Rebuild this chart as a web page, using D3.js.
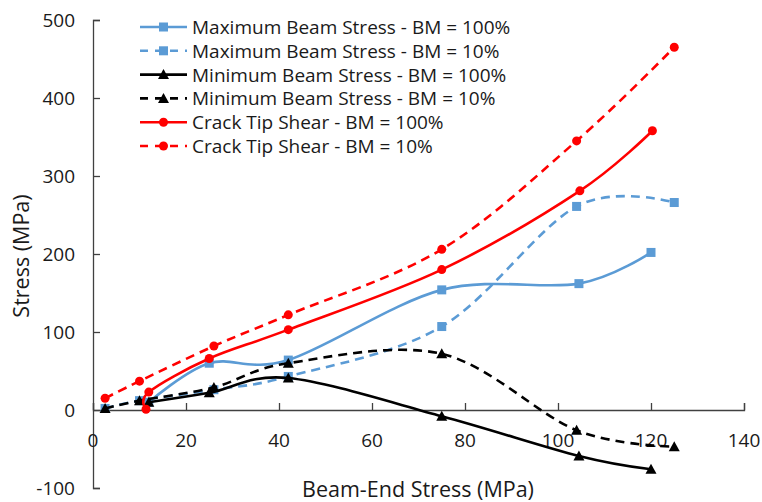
<!DOCTYPE html>
<html>
<head>
<meta charset="UTF-8"/>
<script src="https://d3js.org/d3.v7.min.js"></script>
<style>
  body { margin: 0; background: #fff; }
  svg text { font-family: "Open Sans", Lato, sans-serif; fill: #1a1a1a; }
</style>
</head>
<body>
<script>
  // beam-end stress (x) for each run
  var x100 = [12, 25, 42, 75, 104.5, 120];
  var x10 = [2.6, 10, 26, 42, 75, 104, 125];
  var xCrack100 = [11.4, 12, 25, 42, 75, 104.7, 120.3];

  var maxBeam100 = [10, 60, 64, 154, 162, 202];
  var maxBeam10 = [2, 12, 26, 43, 107, 261, 266];
  var minBeam100 = [10, 22, 41, -8, -59, -76];
  var minBeam10 = [2, 12, 29, 60, 72, -26, -47];
  var crackTip100 = [1, 23, 66, 103, 180, 281, 358];
  var crackTip10 = [15, 37, 82, 122, 206, 345, 465];

  var xTicks = [0, 20, 40, 60, 80, 100, 120, 140];
  var yTicks = [-100, 0, 100, 200, 300, 400, 500];

  var series = [
    {name: "Maximum Beam Stress - BM = 100%", xs: x100, ys: maxBeam100, color: "#5b9bd5", dash: null, marker: "square"},
    {name: "Maximum Beam Stress - BM = 10%", xs: x10, ys: maxBeam10, color: "#5b9bd5", dash: "9,6", marker: "square"},
    {name: "Minimum Beam Stress - BM = 100%", xs: x100, ys: minBeam100, color: "#000000", dash: null, marker: "triangle"},
    {name: "Minimum Beam Stress - BM = 10%", xs: x10, ys: minBeam10, color: "#000000", dash: "9,6", marker: "triangle"},
    {name: "Crack Tip Shear - BM = 100%", xs: xCrack100, ys: crackTip100, color: "#ff0000", dash: null, marker: "circle"},
    {name: "Crack Tip Shear - BM = 10%", xs: x10, ys: crackTip10, color: "#ff0000", dash: "9,6", marker: "circle"}
  ];

  var W = 762, H = 502;
  var x = d3.scaleLinear().domain([0, 140]).range([93, 744]);
  var y = d3.scaleLinear().domain([-100, 500]).range([488, 20]);

  var svg = d3.select("body").append("svg").attr("width", W).attr("height", H);

  // axes
  var axisColor = "#404040";
  var xAxis = svg.append("g").attr("transform", "translate(0," + y(0) + ")")
    .call(d3.axisTop(x).tickValues(xTicks).tickSize(7).tickFormat(""));
  var yAxis = svg.append("g").attr("transform", "translate(" + x(0) + ",0)")
    .call(d3.axisRight(y).tickValues(yTicks).tickSize(7).tickFormat(""));
  svg.selectAll(".domain").attr("stroke", axisColor).attr("stroke-width", 1.3);
  svg.selectAll(".tick line").attr("stroke", axisColor).attr("stroke-width", 1.3);

  svg.selectAll(".xlab").data(xTicks).enter().append("text")
    .attr("x", function(d) { return x(d); })
    .attr("y", y(0) + 37)
    .attr("text-anchor", "middle")
    .style("font-size", "19px")
    .text(function(d) { return d; });

  svg.selectAll(".ylab").data(yTicks).enter().append("text")
    .attr("x", x(0) - 18)
    .attr("y", function(d) { return y(d) + 6.5; })
    .attr("text-anchor", "end")
    .style("font-size", "19px")
    .text(function(d) { return d; });

  svg.append("text")
    .attr("x", 418).attr("y", 497)
    .attr("text-anchor", "middle")
    .style("font-size", "21.5px")
    .text("Beam-End Stress (MPa)");

  svg.append("text")
    .attr("transform", "translate(29,256) rotate(-90)")
    .attr("text-anchor", "middle")
    .style("font-size", "21.5px")
    .text("Stress (MPa)");

  var line = d3.line()
    .x(function(d) { return x(d[0]); })
    .y(function(d) { return y(d[1]); })
    .curve(d3.curveCatmullRom.alpha(0));

  function drawMarker(g, type, cx, cy, color) {
    if (type == "square") {
      g.append("rect").attr("x", cx - 4.5).attr("y", cy - 4.5)
        .attr("width", 9).attr("height", 9).attr("fill", color);
    } else if (type == "triangle") {
      g.append("path").attr("d", "M" + cx + "," + (cy - 5.5) + "L" + (cx + 5.5) + "," + (cy + 4.5) + "L" + (cx - 5.5) + "," + (cy + 4.5) + "Z")
        .attr("fill", color);
    } else {
      g.append("circle").attr("cx", cx).attr("cy", cy).attr("r", 4.5).attr("fill", color);
    }
  }

  series.forEach(function(s) {
    var pts = s.xs.map(function(v, i) { return [v, s.ys[i]]; });
    var g = svg.append("g");
    g.append("path")
      .attr("d", line(pts))
      .attr("fill", "none")
      .attr("stroke", s.color)
      .attr("stroke-width", 2.6)
      .attr("stroke-dasharray", s.dash);
    pts.forEach(function(p) { drawMarker(g, s.marker, x(p[0]), y(p[1]), s.color); });
  });

  // legend
  var legend = svg.append("g");
  series.forEach(function(s, i) {
    var ly = 27 + i * 23.8;
    legend.append("line")
      .attr("x1", 140).attr("x2", 187).attr("y1", ly).attr("y2", ly)
      .attr("stroke", s.color).attr("stroke-width", 2.6)
      .attr("stroke-dasharray", s.dash ? "8,7" : null);
    drawMarker(legend, s.marker, 163.5, ly, s.color);
    legend.append("text")
      .attr("x", 192).attr("y", ly + 7)
      .style("font-size", "19px")
      .text(s.name);
  });
</script>
</body>
</html>
